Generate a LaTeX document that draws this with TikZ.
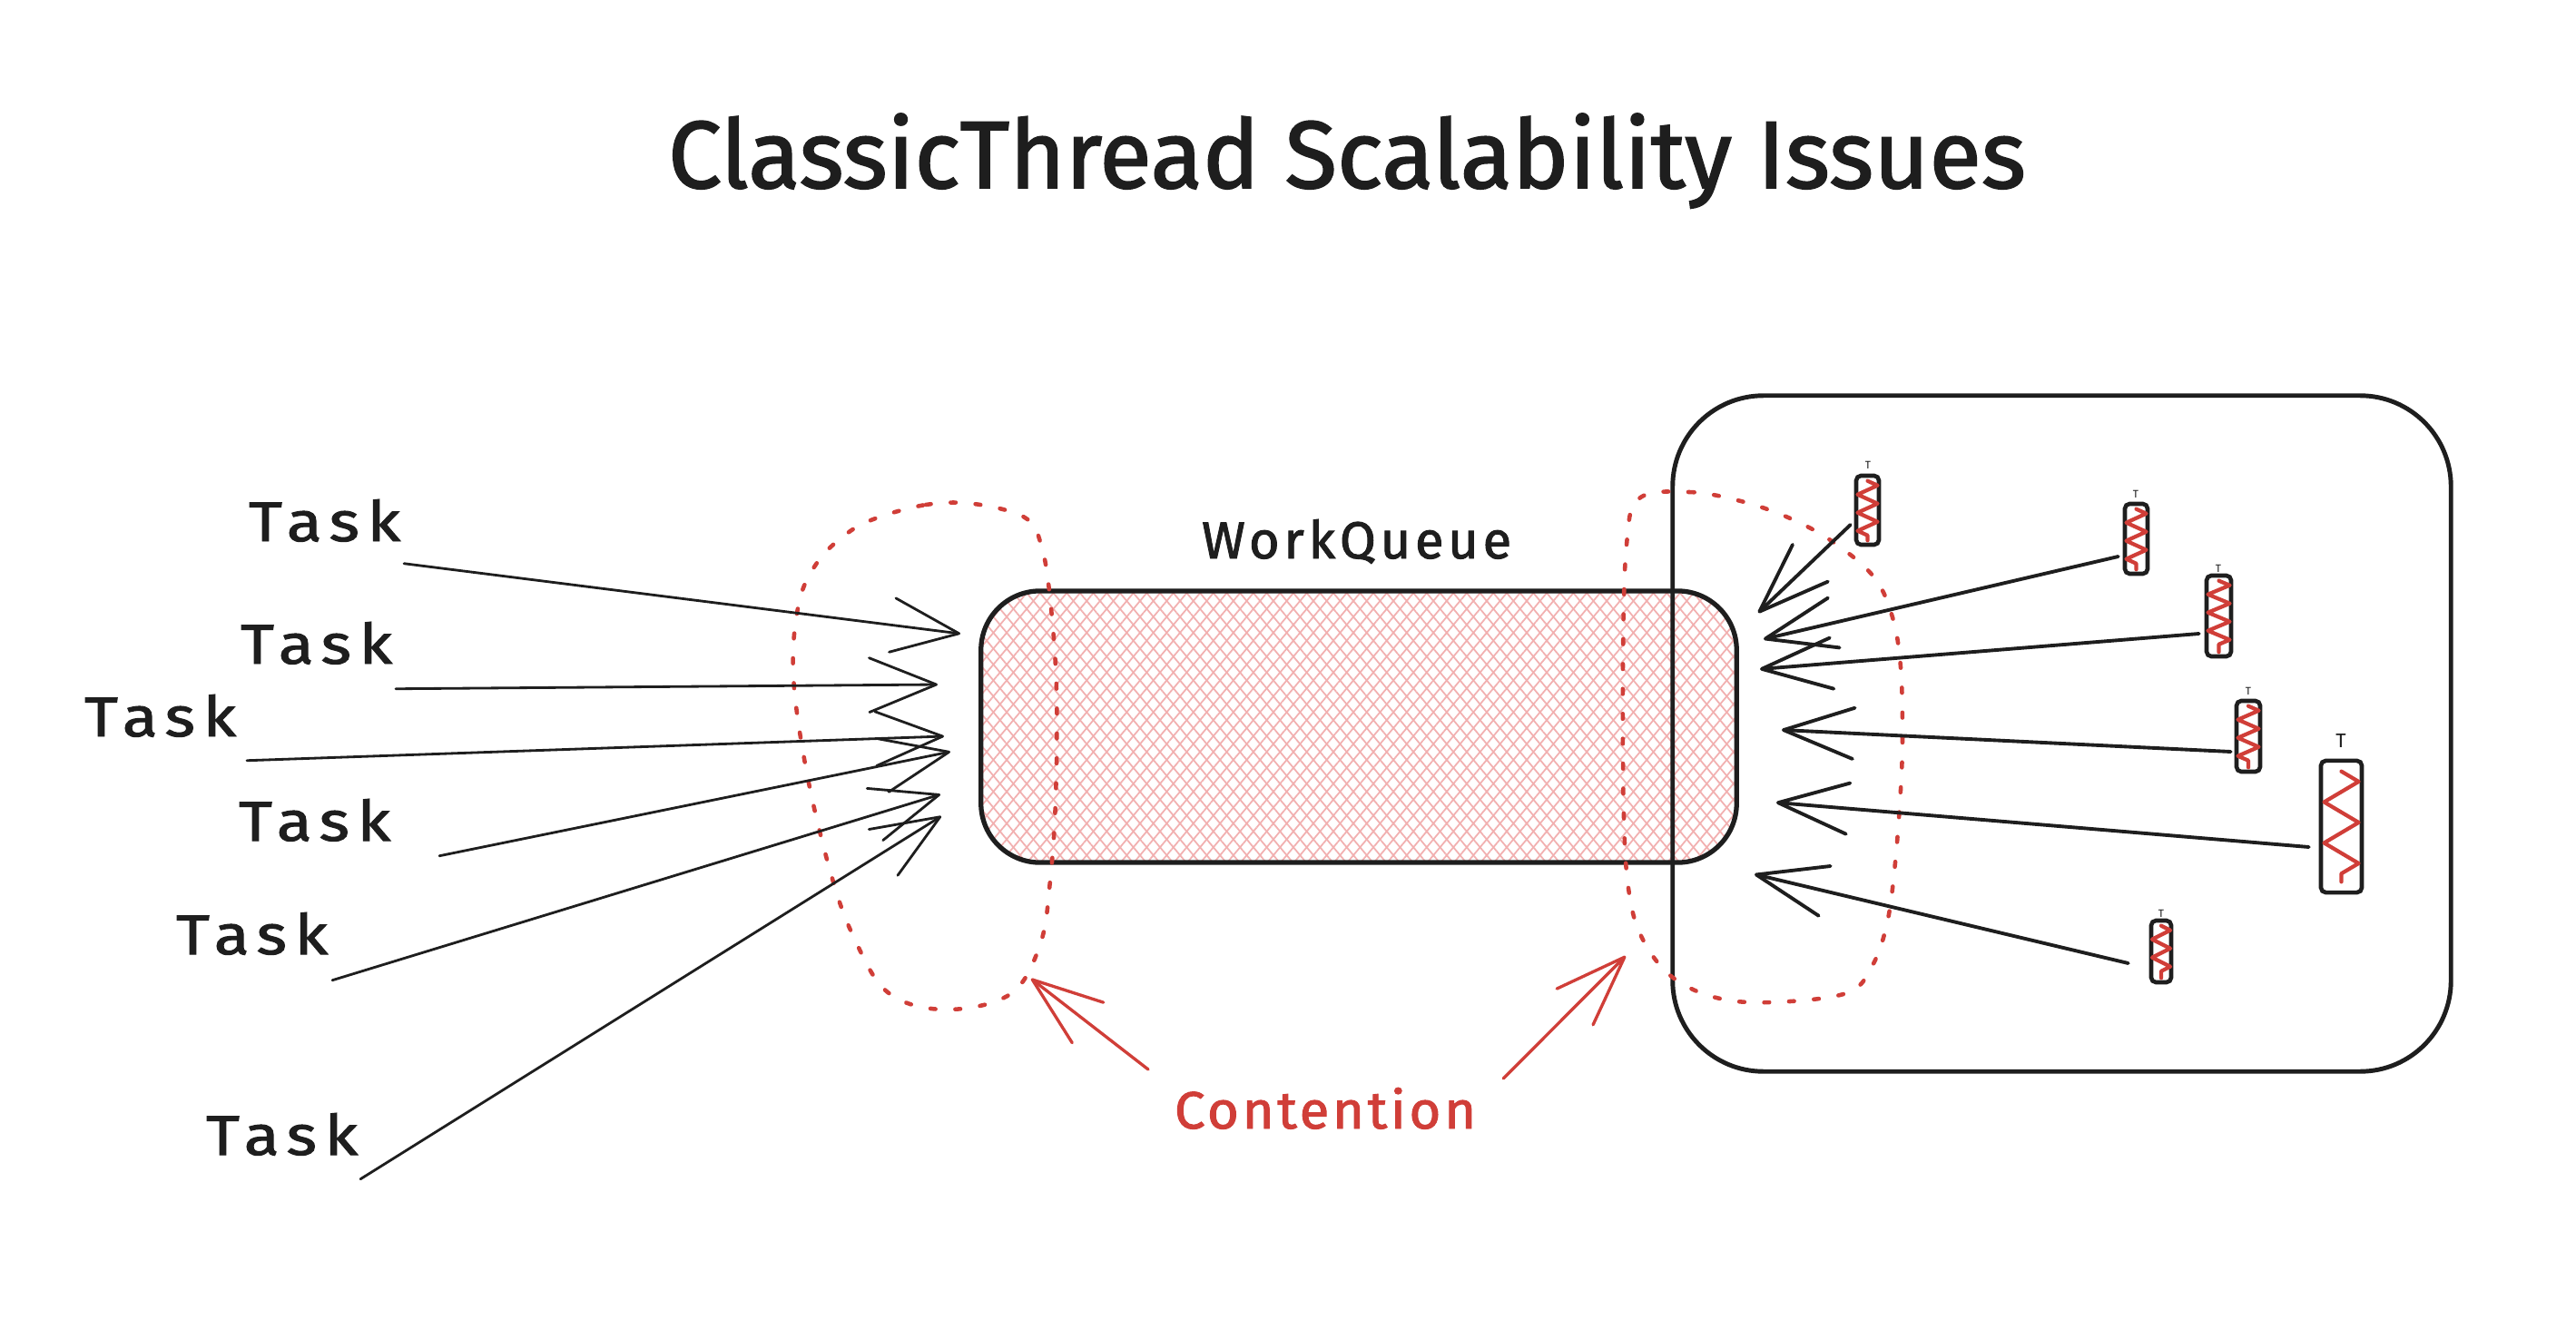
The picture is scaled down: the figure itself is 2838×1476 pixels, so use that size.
\documentclass[tikz,border=0pt]{standalone}
\usepackage{fontspec}
\setmainfont{Fira Sans}
\usepackage{graphicx}
\usetikzlibrary{arrows.meta,patterns.meta,decorations.pathmorphing,calc}
\definecolor{ink}{HTML}{1E1E1E}
\definecolor{cred}{RGB}{208,62,56}
\definecolor{hatch}{RGB}{242,176,176}
\newcommand{\sizedtext}[4]{\resizebox{#1}{#2}{\addfontfeature{LetterSpace=#3,FakeBold=1.6}#4}}
\begin{document}
\begin{tikzpicture}[x=0.01cm,y=-0.01cm,
  lbl/.style={inner sep=0pt, outer sep=0pt, anchor=base west, text=ink},
  tasklink/.style={draw=ink, line width=0.8pt, line cap=round, -{Straight Barb[length=21pt,width=17pt,round]}},
  thrlink/.style={draw=ink, line width=1.1pt, line cap=round, -{Straight Barb[length=22pt,width=16pt,round]}},
  redlink/.style={draw=cred, line width=0.95pt, line cap=round, -{Straight Barb[length=22pt,width=16pt,round]}},
  blob/.style={draw=cred, line width=1.3pt, dash pattern=on 1.6pt off 6.2pt, line cap=round},
  queuebox/.style={draw=ink, line width=1.5pt, rounded corners=0.65cm, inner sep=0pt,
     minimum width=8.32cm, minimum height=2.99cm,
     preaction={pattern={Lines[angle=50,distance=3.2pt,line width=0.5pt]}, pattern color=hatch},
     preaction={pattern={Lines[angle=-50,distance=3.2pt,line width=0.5pt]}, pattern color=hatch}},
  poolbox/.style={draw=ink, line width=1.4pt, rounded corners=1cm, inner sep=0pt,
     minimum width=8.57cm, minimum height=7.44cm},
  thread/.style={draw=ink, line width=1.3pt, rounded corners=1.5pt, inner sep=0pt},
  wave/.style={draw=cred, line width=1.2pt, line join=round, line cap=round, decorate},
  tlabel/.style={inner sep=0pt, text=ink, font=\fontsize{3.4}{4}\selectfont},
]
\useasboundingbox (0,0) rectangle (2838,1476);
\fill[white] (0,0) rectangle (2838,1476);

% queue and pool
\node[queuebox] (queue) at (1497,800.5) {};
\node[poolbox] (pool) at (2271.5,808) {};

% contention regions
\draw[blob] plot[smooth cycle, tension=0.6] coordinates {
 (962,572) (1020,556) (1073,555) (1129,570) (1147,600) (1157,660) (1164,760)
 (1163,880) (1157,970) (1146,1040) (1113,1095) (1041,1112) (978,1093) (940,1031)
 (915,961) (889,852) (874,744) (880,665) (900,620) (930,590)};
\draw[blob] plot[smooth cycle, tension=0.6] coordinates {
 (1806,549) (1861,542) (1918,552) (1970,570) (2018,596) (2064,635) (2085,680)
 (2094,735) (2096,810) (2094,870) (2088,950) (2079,1017) (2062,1065) (2034,1094)
 (1952,1104) (1891,1099) (1842,1076) (1810,1035) (1795,985) (1789,900) (1788,730) (1792,600)};

% texts
\node[lbl] (title) at (736,207) {\resizebox{14.95cm}{!}{\addfontfeature{FakeBold=1.6}ClassicThread Scalability Issues}};
\node[lbl] (wq) at (1324,615) {\sizedtext{3.41cm}{0.43cm}{8}{WorkQueue}};
\node[lbl, text=cred] (cont) at (1294,1243) {\sizedtext{3.32cm}{0.45cm}{6}{Contention}};

\node[lbl] (task1) at (274,596) {\sizedtext{1.67cm}{0.46cm}{12}{Task}};
\node[lbl] (task2) at (265,731) {\sizedtext{1.67cm}{0.46cm}{12}{Task}};
\node[lbl] (task3) at (93,811) {\sizedtext{1.67cm}{0.46cm}{12}{Task}};
\node[lbl] (task4) at (263,926) {\sizedtext{1.67cm}{0.46cm}{12}{Task}};
\node[lbl] (task5) at (194,1051) {\sizedtext{1.67cm}{0.46cm}{12}{Task}};
\node[lbl] (task6) at (227,1272) {\sizedtext{1.67cm}{0.46cm}{12}{Task}};

% arrow targets
\coordinate (q1) at (1058,698);
\coordinate (q2) at (1033,754);
\coordinate (q3) at (1040,811);
\coordinate (q4) at (1047,828);
\coordinate (q5) at (1036,875);
\coordinate (q6) at (1037,899);
\coordinate (r1) at (1937,675);
\coordinate (r2) at (1943,704);
\coordinate (r3) at (1939,737);
\coordinate (r4) at (1963,804);
\coordinate (r5) at (1957,884);
\coordinate (r6) at (1933,963);
\coordinate (c1) at (1136,1078);
\coordinate (c2) at (1791,1053);

% task arrows
\draw[tasklink] ($(task1.south east)+(4,24)$) -- (q1);
\draw[tasklink] ($(task2.south east)+(4,27)$) -- (q2);
\draw[tasklink] ($(task3.south east)+(12,26)$) -- (q3);
\draw[tasklink] ($(task4.south east)+(54,16)$) -- (q4);
\draw[tasklink] ($(task5.south east)+(5,28)$) -- (q5);
\draw[tasklink] ($(task6.south east)+(3,26)$) -- (q6);

% threads
\node[thread, minimum width=0.25cm, minimum height=0.76cm] (th1) at (2057.5,562) {};
\node[thread, minimum width=0.25cm, minimum height=0.77cm] (th2) at (2353.5,593.5) {};
\node[thread, minimum width=0.27cm, minimum height=0.89cm] (th3) at (2444.5,678.5) {};
\node[thread, minimum width=0.26cm, minimum height=0.78cm] (th4) at (2477,811) {};
\node[thread, minimum width=0.45cm, minimum height=1.45cm] (th5) at (2579.5,910.5) {};
\node[thread, minimum width=0.22cm, minimum height=0.68cm] (th6) at (2381,1048) {};

\draw[wave, decoration={zigzag, amplitude=0.11cm, segment length=0.2cm}] ($(th1.north)+(0,8)$) -- ($(th1.south)+(0,-7)$);
\draw[wave, decoration={zigzag, amplitude=0.11cm, segment length=0.2cm}] ($(th2.north)+(0,8)$) -- ($(th2.south)+(0,-7)$);
\draw[wave, decoration={zigzag, amplitude=0.12cm, segment length=0.2cm}] ($(th3.north)+(0,8)$) -- ($(th3.south)+(0,-7)$);
\draw[wave, decoration={zigzag, amplitude=0.115cm, segment length=0.2cm}] ($(th4.north)+(0,8)$) -- ($(th4.south)+(0,-7)$);
\draw[wave, decoration={zigzag, amplitude=0.19cm, segment length=0.45cm}] ($(th5.north)+(0,14)$) -- ($(th5.south)+(0,-14)$);
\draw[wave, decoration={zigzag, amplitude=0.1cm, segment length=0.2cm}] ($(th6.north)+(0,8)$) -- ($(th6.south)+(0,-7)$);

\node[tlabel] (th1t) at (2058,512) {T};
\node[tlabel] (th2t) at (2353,544) {T};
\node[tlabel] (th3t) at (2444,626) {T};
\node[tlabel] (th4t) at (2477,761) {T};
\node[tlabel, font=\fontsize{6.2}{7}\selectfont] (th5t) at (2579,816) {T};
\node[tlabel] (th6t) at (2381,1006) {T};

% thread arrows
\draw[thrlink] ($(th1.west)+(-4,16)$) -- (r1);
\draw[thrlink] ($(th2.west)+(-5,19.5)$) -- (r2);
\draw[thrlink] ($(th3.west)+(-6,19.5)$) -- (r3);
\draw[thrlink] ($(th4.west)+(-4,17)$) -- (r4);
\draw[thrlink] ($(th5.west)+(-11,22.5)$) -- (r5);
\draw[thrlink] ($(th6.west)+(-23,13)$) -- (r6);

% contention arrows
\draw[redlink] ($(cont.north west)+(-29,-20)$) -- (c1);
\draw[redlink] ($(cont.north east)+(30,-10)$) -- (c2);
\end{tikzpicture}
\end{document}
